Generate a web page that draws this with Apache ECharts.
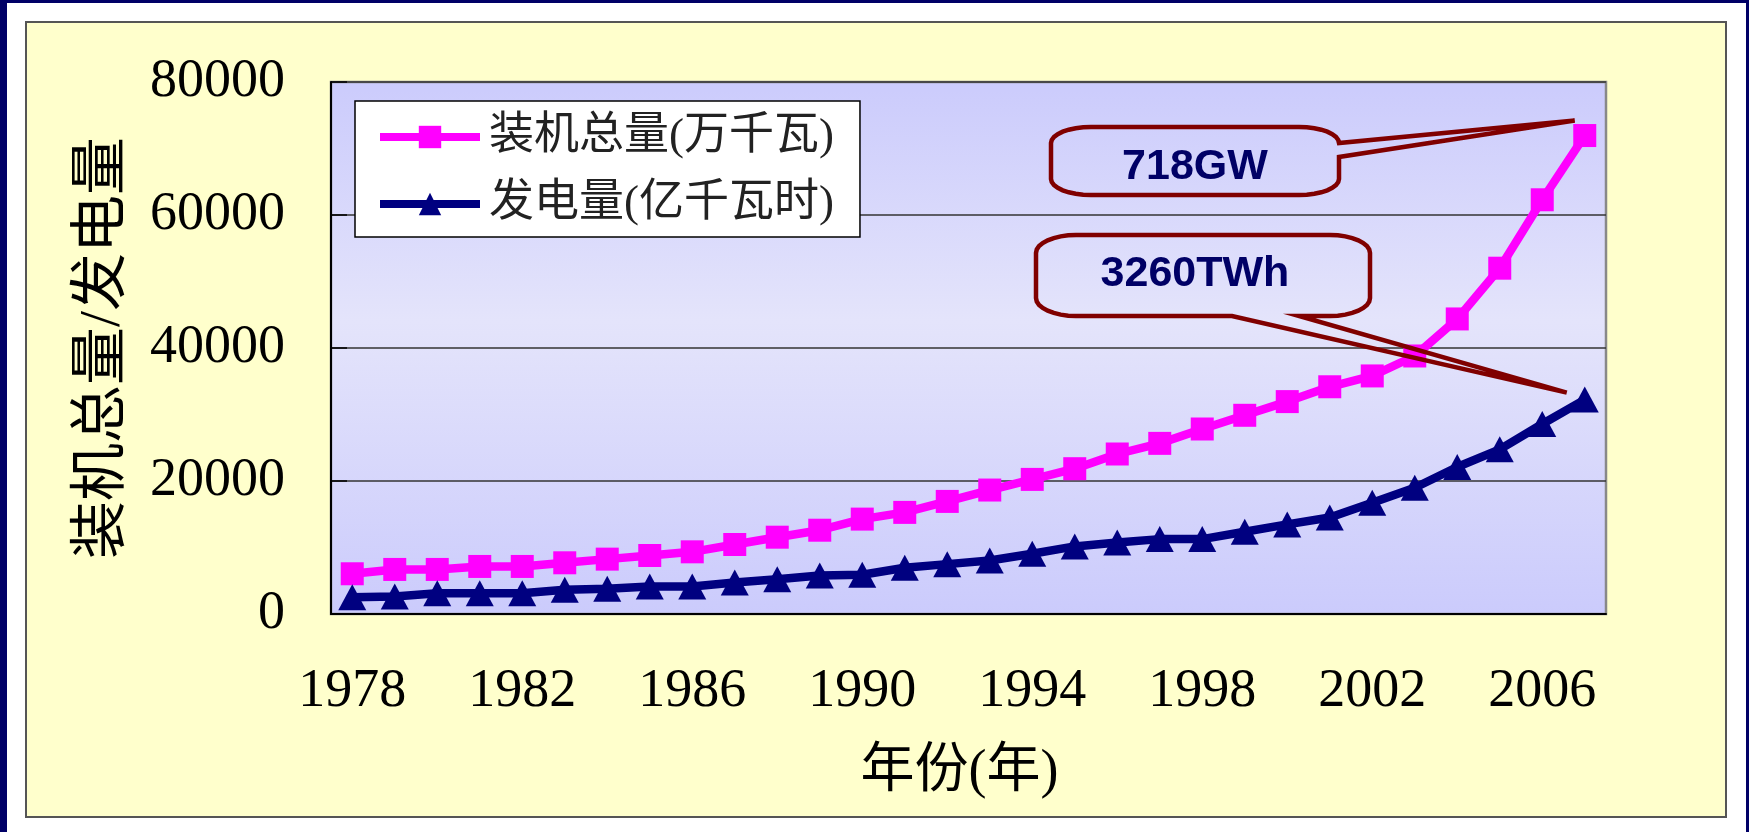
<!DOCTYPE html>
<html>
<head>
<meta charset="utf-8">
<script src="https://cdn.jsdelivr.net/npm/echarts@6/dist/echarts.min.js"></script>
<style>
html, body { margin: 0; padding: 0; background: #fff; }
#main { width: 1749px; height: 832px; }
</style>
</head>
<body>
<div id="main"></div>
<script>
var years = ['1978', '1979', '1980', '1981', '1982', '1983', '1984', '1985', '1986', '1987',
    '1988', '1989', '1990', '1991', '1992', '1993', '1994', '1995', '1996', '1997',
    '1998', '1999', '2000', '2001', '2002', '2003', '2004', '2005', '2006', '2007'];
// 装机总量 (万千瓦)
var capacity = [6050, 6700, 6700, 7150, 7150, 7700, 8250, 8800, 9350, 10450,
    11550, 12600, 14270, 15280, 16930, 18640, 20240, 21850, 24060, 25660,
    27820, 29880, 31940, 34170, 35800, 38800, 44370, 52000, 62290, 71950];
// 发电量 (亿千瓦时)
var generation = [2530, 2630, 3130, 3130, 3130, 3640, 3790, 4140, 4140, 4740,
    5240, 5800, 5900, 6950, 7500, 8050, 9060, 10160, 10760, 11260,
    11260, 12370, 13470, 14520, 16730, 18990, 22100, 24760, 28570, 32240];
var seriesNames = ['装机总量(万千瓦)', '发电量(亿千瓦时)'];
var calloutTexts = ['718GW', '3260TWh'];
var yMax = 80000, yStep = 20000;

var serif = 'Liberation Serif, Noto Sans CJK SC';
var myChart = echarts.init(document.getElementById('main'));

var option = {
    backgroundColor: '#ffffff',
    animation: false,
    graphic: [
        { type: 'rect', z: -10, shape: { x: 0, y: 0, width: 7, height: 832 }, style: { fill: '#000066' } },
        { type: 'rect', z: -10, shape: { x: 0, y: 0, width: 1749, height: 3 }, style: { fill: '#000066' } },
        { type: 'rect', z: -10, shape: { x: 1746, y: 0, width: 3, height: 832 }, style: { fill: '#000066' } },
        { type: 'rect', z: -10, shape: { x: 26, y: 22, width: 1700, height: 795 },
          style: { fill: '#ffffcc', stroke: '#555', lineWidth: 2 } }
    ],
    legend: {
        data: seriesNames,
        left: 355,
        top: 101,
        orient: 'vertical',
        itemWidth: 100,
        itemHeight: 28,
        itemGap: 17,
        padding: [11, 26, 8, 21],
        backgroundColor: '#ffffff',
        borderColor: '#000',
        borderWidth: 1.5,
        borderRadius: 0,
        selectedMode: false,
        lineStyle: { width: 8 },
        textStyle: {
            fontSize: 45,
            lineHeight: 50,
            color: '#222',
            fontFamily: serif,
            padding: [0, 0, 0, 4]
        }
    },
    grid: {
        left: 331,
        right: 143,
        top: 82,
        bottom: 218,
        show: true,
        borderColor: '#888',
        borderWidth: 2.5,
        backgroundColor: {
            type: 'linear', x: 0, y: 0, x2: 0, y2: 1,
            colorStops: [
                { offset: 0, color: '#cbcbfc' },
                { offset: 0.45, color: '#e4e4fb' },
                { offset: 1, color: '#cbcbfc' }
            ]
        }
    },
    xAxis: {
        type: 'category',
        data: years,
        boundaryGap: true,
        name: '年份(年)',
        nameLocation: 'middle',
        nameGap: 132,
        nameTextStyle: { fontSize: 54, fontFamily: serif, color: '#000', padding: [0, 18, 0, 0] },
        axisLine: { lineStyle: { color: '#000', width: 2 } },
        axisTick: { inside: true, length: 17, interval: 0, lineStyle: { color: '#000', width: 1.5 } },
        axisLabel: { interval: 3, margin: 51, fontSize: 54, fontFamily: serif, color: '#000' },
        splitLine: { show: false }
    },
    yAxis: {
        type: 'value',
        min: 0,
        max: yMax,
        interval: yStep,
        name: '装机总量/发电量',
        nameLocation: 'middle',
        nameGap: 198,
        nameTextStyle: { fontSize: 58, fontFamily: serif, color: '#000' },
        axisLine: { show: true, lineStyle: { color: '#000', width: 2 } },
        axisTick: { show: true, inside: true, length: 16, lineStyle: { color: '#000', width: 1.5 } },
        axisLabel: {
            margin: 46, fontSize: 54, fontFamily: serif, color: '#000',
            formatter: function (v) { return String(v); }
        },
        splitLine: { lineStyle: { color: '#333', width: 1.5 } }
    },
    series: [
        {
            name: seriesNames[0],
            type: 'line',
            data: capacity,
            symbol: 'rect',
            symbolSize: 23,
            color: '#ff00ff',
            lineStyle: { width: 8.5, color: '#ff00ff' },
            itemStyle: { color: '#ff00ff' }
        },
        {
            name: seriesNames[1],
            type: 'line',
            data: generation,
            symbol: 'triangle',
            symbolSize: [28, 26],
            color: '#000080',
            lineStyle: { width: 8.5, color: '#000080' },
            itemStyle: { color: '#000080' }
        }
    ]
};

myChart.setOption(option);

// callout shape: rounded box with a pointer wedge to the last data point
function calloutPoints(box, wedge) {
    var pts = [];
    function arc(cx, cy, a0, a1) {
        for (var k = 0; k <= 8; k++) {
            var t = (a0 + (a1 - a0) * k / 8) * Math.PI / 180;
            pts.push([cx + box.rx * Math.cos(t), cy + box.ry * Math.sin(t)]);
        }
    }
    arc(box.x1 - box.rx, box.y0 + box.ry, -90, 0);
    if (wedge.side === 'right') pts.push([box.x1, wedge.a], wedge.tip, [box.x1, wedge.b]);
    arc(box.x1 - box.rx, box.y1 - box.ry, 0, 90);
    if (wedge.side === 'bottom') pts.push([wedge.a, box.y1], wedge.tip, [wedge.b, box.y1]);
    arc(box.x0 + box.rx, box.y1 - box.ry, 90, 180);
    arc(box.x0 + box.rx, box.y0 + box.ry, 180, 270);
    return pts;
}

var last = years.length - 1;
var pCap = myChart.convertToPixel({ seriesIndex: 0 }, [last, capacity[last]]);
var pGen = myChart.convertToPixel({ seriesIndex: 1 }, [last, generation[last]]);

var box1 = { x0: 1051, y0: 127, x1: 1339, y1: 195, rx: 40, ry: 16 };
var box2 = { x0: 1036, y0: 235, x1: 1370, y1: 316, rx: 40, ry: 18 };
var calloutStyle = { fill: 'none', stroke: '#800000', lineWidth: 4.5 };
var textStyle = { fill: '#000066', font: 'bold 43px "Liberation Sans", Arial', textAlign: 'center', textVerticalAlign: 'middle' };

myChart.setOption({
    graphic: option.graphic.concat([
        { type: 'polygon', z: 20, shape: { points: calloutPoints(box1, { side: 'right', a: 143, b: 157, tip: [pCap[0] - 10, pCap[1] - 15] }) }, style: calloutStyle },
        { type: 'polygon', z: 20, shape: { points: calloutPoints(box2, { side: 'bottom', a: 1299, b: 1232, tip: [pGen[0] - 18, pGen[1] - 7] }) }, style: calloutStyle },
        { type: 'text', z: 21, x: 1195, y: 167, style: Object.assign({ text: calloutTexts[0] }, textStyle) },
        { type: 'text', z: 21, x: 1195, y: 274, style: Object.assign({ text: calloutTexts[1] }, textStyle) }
    ])
});
</script>
</body>
</html>
